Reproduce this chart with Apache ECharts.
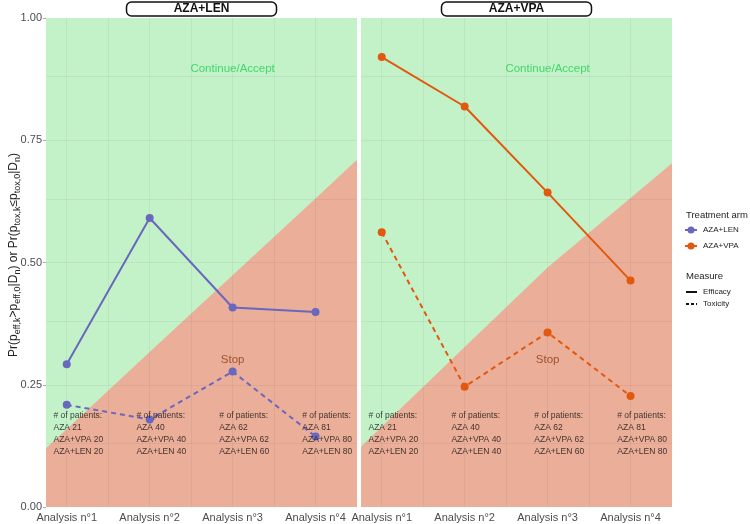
<!DOCTYPE html>
<html>
<head>
<meta charset="utf-8">
<script src="https://cdn.jsdelivr.net/npm/echarts@6/dist/echarts.min.js"></script>
<style>
html, body { margin: 0; padding: 0; background: #fff; }
#main { width: 750px; height: 524px; }
</style>
</head>
<body>
<div id="main"></div>
<script>
var analyses = [1, 2, 3, 4];
var xLabels = ["Analysis n°1", "Analysis n°2", "Analysis n°3", "Analysis n°4"];
var panels = ["AZA+LEN", "AZA+VPA"];
var lenEfficacy = [0.292, 0.591, 0.408, 0.399];
var lenToxicity = [0.209, 0.179, 0.277, 0.144];
var vpaEfficacy = [0.920, 0.819, 0.643, 0.463];
var vpaToxicity = [0.562, 0.246, 0.357, 0.227];
// stop / continue boundary read from the fills
var boundaryX = [0.75, 1, 2, 3, 4, 4.5];
var lenBoundary = [0.12, 0.159, 0.317, 0.474, 0.631, 0.71];
var vpaBoundary = [0.123, 0.164, 0.327, 0.49, 0.632, 0.703];
var patientsAZA = [21, 40, 62, 81];
var patientsVPA = [20, 40, 62, 80];
var patientsLEN = [20, 40, 60, 80];

var FONT = "Liberation Sans";
var colLEN = "#6a67be";
var colVPA = "#e2580e";

function zip(xs, ys) {
  return xs.map(function (x, i) { return [x, ys[i]]; });
}

var grids = [
  { left: 46, top: 18, width: 311, height: 489 },
  { left: 361, top: 18, width: 311, height: 489 }
];

var xAxes = [], yAxes = [], series = [];
var panelData = [
  { eff: lenEfficacy, tox: lenToxicity, bound: lenBoundary, color: colLEN },
  { eff: vpaEfficacy, tox: vpaToxicity, bound: vpaBoundary, color: colVPA }
];

// grid lines (major + minor), drawn over the fills
var gridLines = [];
[1, 1.5, 2, 2.5, 3, 3.5, 4].forEach(function (v) { gridLines.push({ xAxis: v }); });
[0.125, 0.25, 0.375, 0.5, 0.625, 0.75, 0.875].forEach(function (v) { gridLines.push({ yAxis: v }); });

panelData.forEach(function (p, i) {
  xAxes.push({
    type: "value", gridIndex: i, min: 0.75, max: 4.5, interval: 0.25,
    axisLine: { show: false }, axisTick: { show: false }, splitLine: { show: false },
    axisLabel: {
      margin: 5, color: "#4d4d4d", fontSize: 11, fontFamily: FONT,
      formatter: function (v) {
        var k = analyses.indexOf(v);
        return k >= 0 ? xLabels[k] : "";
      }
    }
  });
  yAxes.push({
    type: "value", gridIndex: i, min: 0, max: 1, interval: 0.25,
    axisLine: { show: false }, splitLine: { show: false },
    axisTick: { show: i === 0, length: 3, lineStyle: { color: "#aaa" } },
    axisLabel: {
      show: i === 0, margin: 4, color: "#4d4d4d", fontSize: 11, fontFamily: FONT,
      formatter: function (v) { return v.toFixed(2); }
    }
  });

  series.push({
    type: "line", xAxisIndex: i, yAxisIndex: i, silent: true, z: 1,
    data: [[0.75, 1], [4.5, 1]], symbol: "none",
    lineStyle: { width: 0 }, areaStyle: { color: "#c3f2c8", opacity: 1 }
  });
  series.push({
    type: "line", xAxisIndex: i, yAxisIndex: i, silent: true, z: 2,
    data: zip(boundaryX, p.bound), symbol: "none",
    lineStyle: { width: 0 }, areaStyle: { color: "#ebae98", opacity: 1 },
    markLine: {
      silent: true, symbol: ["none", "none"], label: { show: false },
      lineStyle: { color: "rgba(90,90,90,0.08)", width: 1, type: "solid" },
      data: gridLines
    }
  });
  series.push({
    type: "line", xAxisIndex: i, yAxisIndex: i, z: 5,
    data: zip(analyses, p.eff), symbol: "circle", symbolSize: 8,
    itemStyle: { color: p.color }, lineStyle: { color: p.color, width: 2 }
  });
  series.push({
    type: "line", xAxisIndex: i, yAxisIndex: i, z: 5,
    data: zip(analyses, p.tox), symbol: "circle", symbolSize: 8,
    itemStyle: { color: p.color }, lineStyle: { color: p.color, width: 2, type: [5, 4] }
  });

  // region labels
  series.push({
    type: "scatter", xAxisIndex: i, yAxisIndex: i, z: 6, silent: true, symbolSize: 0,
    data: [
      { value: [3, 0.897], label: { formatter: "Continue/Accept", color: "#22cf55" } },
      { value: [3, 0.3], label: { formatter: "Stop", color: "#8b3a14" } }
    ],
    label: { show: true, position: "inside", fontSize: 11.5, fontFamily: FONT }
  });

  // patient counts
  series.push({
    type: "scatter", xAxisIndex: i, yAxisIndex: i, z: 6, silent: true, symbolSize: 0,
    data: analyses.map(function (a, k) {
      return {
        value: [a - 0.16, 0.15],
        label: {
          formatter: "# of patients:\nAZA " + patientsAZA[k] + "\nAZA+VPA " + patientsVPA[k] +
            "\nAZA+LEN " + patientsLEN[k]
        }
      };
    }),
    label: {
      show: true, position: "right", distance: 0, align: "left", verticalAlign: "middle",
      fontSize: 8.5, lineHeight: 12, color: "#111", fontFamily: FONT
    }
  });
});

var graphics = [];
// panel strips
grids.forEach(function (g, i) {
  var cx = g.left + g.width / 2;
  graphics.push({
    type: "rect", shape: { x: cx - 75, y: 2, width: 150, height: 14, r: 5 },
    style: { fill: "#fff", stroke: "#111", lineWidth: 1.5 }
  });
  graphics.push({
    type: "text", x: cx, y: 9,
    style: { text: panels[i], fill: "#111", font: "bold 12px " + FONT, align: "center", verticalAlign: "middle" }
  });
});

// y axis title with subscripts
graphics.push({
  type: "text", x: 14, y: 255, rotation: Math.PI / 2,
  style: {
    text: "Pr(p{s|eff,k}>p{s|eff,0}|D{s|n}) or Pr(p{s|tox,k}≤p{s|tox,0}|D{s|n})",
    fill: "#222", font: "12px " + FONT, align: "center", verticalAlign: "middle",
    rich: { s: { fontSize: 9, fontFamily: FONT, fill: "#222", padding: [7, 0, 0, 0] } }
  }
});

// legend
var legX = 686;
graphics.push({ type: "text", x: legX, y: 215, style: { text: "Treatment arm", fill: "#222", font: "9.5px " + FONT, verticalAlign: "middle" } });
[[panels[0], colLEN, 230], [panels[1], colVPA, 246]].forEach(function (it) {
  graphics.push({ type: "line", shape: { x1: legX - 1, y1: it[2], x2: legX + 11, y2: it[2] }, style: { stroke: it[1], lineWidth: 2 } });
  graphics.push({ type: "circle", shape: { cx: legX + 5, cy: it[2], r: 3.5 }, style: { fill: it[1] } });
  graphics.push({ type: "text", x: legX + 17, y: it[2], style: { text: it[0], fill: "#222", font: "8px " + FONT, verticalAlign: "middle" } });
});
graphics.push({ type: "text", x: legX, y: 276, style: { text: "Measure", fill: "#222", font: "9.5px " + FONT, verticalAlign: "middle" } });
[["Efficacy", null, 292], ["Toxicity", [3, 2], 304]].forEach(function (it) {
  graphics.push({ type: "line", shape: { x1: legX, y1: it[2], x2: legX + 11, y2: it[2] }, style: { stroke: "#111", lineWidth: 2, lineDash: it[1] } });
  graphics.push({ type: "text", x: legX + 17, y: it[2], style: { text: it[0], fill: "#222", font: "8px " + FONT, verticalAlign: "middle" } });
});

var chart = echarts.init(document.getElementById("main"));
chart.setOption({
  animation: false,
  textStyle: { fontFamily: FONT },
  grid: grids,
  xAxis: xAxes,
  yAxis: yAxes,
  series: series,
  graphic: graphics
});
</script>
</body>
</html>
